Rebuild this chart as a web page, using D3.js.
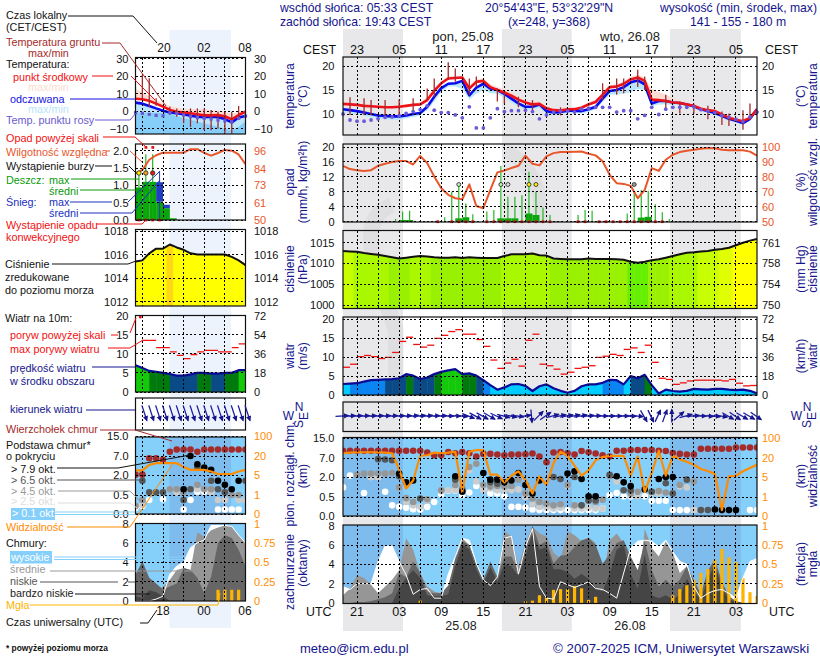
<!DOCTYPE html>
<html>
<head>
<meta charset="utf-8">
<script src="https://d3js.org/d3.v7.min.js"></script>
<style>
  html, body { margin: 0; background: #fff; }
  svg { display: block; font-family: "Liberation Sans", Arial, sans-serif; font-size: 11px; }
  .axis path { display: none; }
  .axis line { display: none; }
  .axis text { font-size: 11px; font-family: "Liberation Sans", Arial, sans-serif; }
</style>
</head>
<body>
<svg id="chart" width="820" height="660"></svg>
<script>
/* ---------- main meteogram: one value per hour, 19 UTC 24.08 to 06 UTC 27.08 ---------- */
var mainTemp = [12.1,12,11.9,11.7,11.6,11.5,11.4,11.4,11.5,11.7,11.9,12,12.9,14.8,16.4,17.4,17.5,17.6,15.3,16.7,16.9,15.6,15,14.5,13.8,13,12.4,12,12.1,11.2,10.8,10.7,11,11,11.3,12,12.5,14,15.6,15.7,16.3,17.2,17.6,16.9,13,12.9,12.7,12.4,12.3,12,11.7,11.1,10.8,10.6,9.9,9.2,8.8,8.5,9.2,11];
var mainTempMax = [12.4,12.3,12.2,12,11.9,11.8,11.7,11.7,11.8,12,12.2,12.4,13.6,15.4,16.9,17.8,17.9,18,16,17.2,17.4,16.2,15.6,15.2,14.5,13.7,13,12.6,12.6,11.6,11.2,11.1,11.4,11.4,11.7,12.4,13,14.6,16,16.2,16.8,17.8,18.2,17.6,15.2,14.6,14,13.4,12.9,12.4,12.1,11.5,11.2,11,10.3,9.6,9.2,8.9,9.6,11.4];
var mainFeels = [11,10.8,10.6,10.3,10,9.7,9.6,9.5,9.5,9.7,10,10.2,11.5,13.6,15.4,16.3,16.4,16.9,13.9,15.5,16.3,15.3,15,14.2,13.2,12.2,11.5,11.5,12,10.6,10.3,10.4,10.7,10.7,10.6,11,11.5,13.2,14.8,15,15.6,16.6,17,16.2,12.2,12.7,12.7,12.4,12.3,12,11.6,11,10.6,10.2,9.6,9,8.6,8.1,9,11];
var mainFeelsMin = [10.3,10.1,9.9,9.6,9.3,9,8.9,8.8,8.8,9.1,9.4,9.7,10.8,12.6,14.6,15.7,15.8,15.2,13,14.2,15,14.3,14.2,13.4,12.4,11.5,10.9,10.9,11.2,10,9.7,9.9,10.2,10.2,10.1,10.4,11,12.5,14,14.1,14.2,14.6,15.2,15,11.6,12,12,11.9,11.8,11.6,11.2,10.6,10.2,9.8,9.2,8.6,8.2,7.7,8.6,10.6];
var mainDew = [10,8.75,8.5,8.5,8.75,9,9.3,9.4,9.6,10.1,10.5,10.9,11.7,10.8,10.3,10.3,9.8,9.2,11.5,7.1,7.1,9.2,11.1,10.5,10.7,10.7,10.8,10.5,9,9.8,10.4,10.6,10.6,10.4,11,11.2,11.4,11.4,11.4,10.4,10.7,10.7,9,9.7,11.4,9.9,11,11.4,11.4,11.4,11.5,10.9,10.6,10.3,9.7,9.3,8.9,8.4,9.4,10.4];
var mainSoilHour = [1,3,4,6,8,10,12,13,15,16,18,19,22,23,25,27,31,37,39,40,42,43,46,48,50,52,54,55,57,58];
var mainSoilMax = [13.5,13.3,12.9,12.9,13,13.3,15.3,17.4,20.8,19.5,17.4,17.8,15.3,14.6,13.6,12.9,11.4,16.4,17.4,17.4,19.2,17.8,14,12.6,12.2,11.7,10.5,10.1,10.8,12.2];
var mainSoilMin = [9.8,9.8,9.8,9.1,9.8,10.1,12.9,13.6,17.1,16.7,14,15.6,12.6,12.2,11.4,10.8,9.7,12.9,14,14.3,15.6,15,11.2,10.1,10.1,8.9,7.7,7.5,6.7,8.75];

var mainHumidity = [87.4,85.2,84.5,83.9,84.5,87.4,88.8,89.9,90.6,90.6,88.3,94,89.2,80.3,72.4,68,65.7,65,75,60.5,59,71.3,83,84.3,85.9,87.4,94.2,88.8,87.7,93.7,95.9,96.6,96.6,96.8,97,95.5,94.4,90.4,81.4,75.8,75.3,74,65.7,71.3,85.9,84,91.5,94.8,96.6,97.5,98.2,98.9,99.3,99.1,98.2,97.8,97.8,97.8,96.9,94.2];
var mainRainHour = [7.5,8.5,9.5,14.5,15.5,16.5,17.5,18.5,20.5,21.5,22.5,23.5,24.5,25.5,26.5,27.5,28.5,29.5,33.5,34.5,35.5,40.5,41.5,42.5,43.5,44.5,45.5,46.5];
var mainRainMax = [0.7,2.7,2.9,1.2,8,9.8,4.9,2,2.7,3.1,14.9,6.7,6.7,7.1,13.4,8,3.8,1.8,1.8,3.1,2.9,2.2,8,8.5,8.3,4.7,2.5,0.7];
var mainRainMeanHour = [8,9,16,17,22,23,24,26,27,42,43];
var mainRainMean = [0.45,0.45,0.9,1.2,0.9,0.9,0.9,2.2,1.8,1.1,1.3];
var mainStormHour = [16.5,22.5,23.5,26.5,27.5,41.5];
var mainStormFill = ["#bfe8b8","#bfe8b8","#ddd","#ffee00","#ffee00","#999"];
var mainConvHour = [13.5,15.5,16.5,17.5,18.5,20.5,21.5,22.5,23.5,24.5,25.5,26.5,27.5,28.5,29.5,33.5,34.5,36.5,37.5,38.5,39.5,40.5,41.5,42.5,43.5,44.5,45.5];

var mainPressure = [1013,1012.9,1012.8,1012.5,1012.3,1012.1,1011.8,1011.5,1011.2,1011.4,1011.6,1011.8,1011.7,1011.5,1011.4,1011.4,1011.5,1011.3,1011.5,1011.4,1011.3,1011.3,1011.3,1011.8,1012.2,1012.2,1012.2,1012.4,1012,1011.9,1011.2,1011.1,1011,1011,1011,1011.2,1011.1,1011.1,1011.1,1011,1010.9,1010.4,1010.2,1010.4,1010.8,1011,1011.4,1011.8,1012.2,1012.6,1012.7,1012.9,1013,1013.3,1013.5,1013.8,1014.4,1015,1015.5,1015.9];

var mainWind = [2.9,3,3.1,3.5,3.9,4,4.1,4.2,4.4,5.5,5.1,4.2,4.6,5.5,6.1,6.5,6.8,5.5,5.7,5.1,3.9,2.6,1.4,2,2.8,2.9,2.4,1.05,2.3,2.8,1.8,1.1,0.6,1.1,2.3,2.8,2.8,3.2,4,3.9,2.8,5,4.4,5.3,2.6,0.4,1.4,1.05,0.9,1.1,1.6,1.5,1.4,1.6,1.6,1.4,1.3,1.4,1.1,0.4];
var mainGust = [7.3,8.1,10.1,10.4,10.1,9.6,9.9,11.2,14.1,15.2,13.3,12.6,13.1,14.9,15.7,16.7,17.2,16,16,14.6,12.8,9.2,7,8.4,9.4,7.6,14.4,16,8.1,7.7,6.8,5.5,6,7,7.3,7.7,9.9,10.2,10.7,10.4,12,12.4,11.2,13.1,8.6,4.4,4.1,2.8,3.2,3.7,3.9,3.9,3.9,3.9,3.7,4.1,3.1,2.4,2.5];
var mainWindTo = [-3,-3,-3,-3,-3,-3,-3,-3,-3,-3,-5,-5,-5,-3,-3,0,0,5,22,28,28,30,25,15,12,8,-8,85,-45,-35,-15,-12,-10,-12,-10,-5,-3,0,0,0,0,2,5,60,65,-65,-70,-90,-40,-15,-5,0,3,5,10,30,35,30,30,35];

var mainCloudTop = [9.9,9.9,9.9,9.9,9.9,9.9,9.9,9.9,9.9,9.9,9.9,9.9,9.2,8.1,8.1,9.4,8.9,9.4,8.9,7.6,8.65,8.65,8.4,8.1,8.4,8.4,8.5,8.8,7.6,5.9,9.2,9.4,8.9,8.4,9.8,9.3,8.8,8.1,7.6,9.9,9.9,10.2,10.2,10.2,10.2,9.9,9.8,9,8.65,8.4,8.4,10.7,10.7,10.7,10.7,10.7,11.2,11.2,11.2,11.2];
var mainVisibility = [39,41.6,43,43,43,43,41.6,39,10.8,2.7,4.3,28.9,31,41.6,39,41.6,45,2,45,51.7,51.7,6.8,6.8,3.9,6,9.5,4.4,1.7,5.5,3.4,16,45,28.9,13.9,6,10.3,18.2,23.8,28.9,28.9,28.9,6,26.3,2,8.2,49,6,28.9,18.9,17,14.7,11.3,9.7,7.4,0.31,5.5,6,9.5,12.1,14.7];
var mainBase79Hour = [8,9,10,16,17,20,21,22,23,24,25,26,27,28,32,33,34,35,36,39,40,41,43,45,46,47,53,54,55,56];
var mainBase79 = [2.9,1.6,1.74,2.2,0.89,3.05,1.8,1.8,1.6,1.74,3.05,1.4,0.76,1.74,2.9,3.5,1.85,0.55,0.55,2.2,1.6,1.33,1.07,1.85,2,2,0.17,0.155,0.155,0.155];
var mainBase65Hour = [5,6,7,8,11,16,17,21,22,30,31,33,34,35,36,38,40,41,44,46,47,49,51,52];
var mainBase65 = [6.7,6.6,6.4,2.2,0.46,1.8,1,1.6,1.5,2,1.85,2,0.28,0.41,0.41,2.6,1,1,0.89,1.53,0.76,1.8,0.155,0.155];
var mainBase45Hour = [2,3,4,5,6,7,8,9,10,12,14,16,17,18,19,20,21,22,23,24,25,26,27,28,29,30,31,32,33,34,35,36,37,38,41,42,44,45,46,47,48,50,51];
var mainBase45 = [2.6,2.9,2.9,2.9,2.9,3.05,1.22,0.47,0.37,0.44,1,1.4,1.15,4.6,5.5,1.4,1.28,1.33,1.28,1.33,1.8,0.76,0.46,0.37,0.33,0.28,0.31,1.4,0.28,0.28,0.4,0.37,0.43,2.2,0.76,0.89,0.89,0.94,0.84,0.76,1.4,1.66,0.155];
var mainBase25Hour = [4,5,8,9,10,11,12,14,15,16,18,19,20,21,22,23,24,25,26,27,28,29,30,31,32,33,34,35,36,37,39,41,42,44,45,48,49,50];
var mainBase25 = [2,2,1.22,0.37,0.28,0.24,0.4,0.94,1,1,3.75,1.66,1,1.15,1,1,1,1.07,0.5,0.31,0.24,0.22,0.2,0.22,1.33,0.2,0.2,0.22,0.2,0.2,1.66,0.63,0.55,0.76,0.76,1.28,1.22,0.155];
var mainBase01Hour = [0,1,3,4,5,6,7,8,9,10,11,12,13,14,15,16,17,18,19,20,21,22,23,24,25,26,27,28,29,30,31,32,33,34,35,36,37,38,39,40,41,42,43,44,45,46,47,48,49,50,58,59];
var mainBase01 = [1.22,2.35,0.8,2,2,0.89,0.28,0.24,0.22,0.18,0.17,0.24,0.37,0.7,0.97,0.97,0.63,0.84,1.33,1.07,0.76,0.76,0.55,0.24,0.24,0.22,0.17,0.155,0.155,0.155,0.155,0.155,0.155,0.155,0.155,0.155,0.2,0.63,0.8,0.55,0.55,0.8,0.55,0.4,0.4,0.4,0.155,0.155,0.155,0.155,0.155,0.155];

var mainCloudHigh = [1.7,1.4,2,2,2,4.3,5.9,5.9,4.3,2.9,0.9,1.4,1.5,0.5,0.5,3,4.8,6.7,6.5,4.1,2.4,1.8,2.7,6.7,6.9,3,5.8,7.7,1.7,0.5,0.4,2.2,1.9,1.6,1.9,2.2,1.5,1.4,1,0.5,3.1,5.7,6.4,6.5,6.4,5.8,6.5,5.3,4.3,4,1.7,0.5,1,1.3,1.4,1,0.5,2.6,4.3,4.6];
var mainCloudMid = [0.8,1.5,2.9,2.6,1.9,1,1.7,2.4,3.4,6.7,5.5,3.1,1.7,1.2,1,1,4.8,6.7,6,4,2.4,3.8,2.7,7.4,6.9,3.8,6.2,7.9,7.2,6.9,5.2,4.6,7.4,7,6.4,6.8,6.2,2.6,6.5,7.2,6.2,4.6,0.5,7.7,5.7,4.8,6.4,5.2,3.1,3.8,1.4,0.3,0.3,0.2,0.2,0.1,0.1,0,0,0];
var mainCloudLow = [0,0,0.1,0.1,0.2,0.4,0.6,1,3.1,2.7,4.3,3.1,1.2,1,1,1.8,4.5,6.4,6,4,2.4,4.3,2.7,4.8,4.8,3.3,5.8,8,6,6.4,4.1,4.9,5,5.8,6.5,6.7,6,4.1,5,6.2,6.5,4.8,3.4,6.4,3.4,1.7,2.4,1.7,2.4,3.8,2.4,0.9,3.4,4.5,2.2,0.7,0.2,0,0,0];
var mainCloudVeryLow = [0,0,0,0,0,0,0,0,1.5,2.6,3.4,2.6,0.8,0.7,0.7,0.9,3.8,6,5.6,3.5,2,3.7,2.2,4,3.8,2.8,4.8,7.2,5.5,5.8,3.5,3.5,3.2,2.5,3,2.5,1.5,1.2,3,5.5,6,3,1.5,5,0.8,0.5,0.8,0.4,0.8,2.5,1.2,0.3,2.5,4,1.5,0.4,0.1,0,0,0];
var mainFogHour = [11,26,27,28,29,30,31,32,33,34,35,36,47,48,49,50,51,52,53,54,55,56,57,58,59];
var mainFog = [0.03,0.02,0.03,0.1,0.07,0.17,0.18,0.18,0.22,0.19,0.04,0.08,0.1,0.18,0.23,0.3,0.39,0.44,0.56,0.7,0.59,0.53,0.32,0.14,0.09];

/* ---------- legend meteogram: 14 UTC to 06 UTC ---------- */
var keyTemp = [7,6.7,5.8,4.2,2.5,0.6,-0.4,-0.8,-1.3,-1.9,-2.5,-2.5,-2.3,-3,-4.8,-2.3,-0.4];
var keyTempMax = [13,10.6,8.3,6.5,4.4,2.8,2,1.5,1,1,1,0.5,0.3,-0.5,-1.5,-0.5,0];
var keyFeels = [4.8,4.2,2.9,1.5,0.2,-0.8,-1.3,-1.9,-2.7,-3.3,-3.5,-3.3,-3.5,-4.6,-6.5,-3.7,-2.9];
var keyFeelsMin = [-0.5,-1,-1,-1,-1,-1.5,-3,-4,-5,-6,-7,-8,-9,-10,-11,-9,-6];
var keyDew = [-1,-1.3,-1.9,-2.5,-2.7,-1,-1.3,-2.3,-3.3,-3.8,-4.2,-4.6,-5.2,-5.6,-6.2,-4.2,-2.9];
var keySoilHour = [1,2,3,5,6,7,8,9,10,11,12,13,14,15];
var keySoilMax = [20.8,18.7,7.3,2.5,1.5,-0.4,1.5,1.5,1.5,0.6,-0.4,-0.4,-0.4,2.9];
var keySoilMin = [6.3,2.5,3,-2.3,-3.3,-7,-9.2,-7,-11,-11,-10,-13,-13,-5.2];

var keyHumidity = [81,83.2,90,93,94.7,94.7,94.7,94.7,97,97,94.5,92.7,94.5,96.5,96,93.5,87];
var keyRainMean = [0.94,1.1,1.1,0.53,0.34,0.05];
var keySnowMean = [0,0,0,0.56,0.1,0];
var keyRainHour = [0.5,1.5,2.5];
var keyRainMax = [1.35,1.9,1.9];
var keySnowHour = [3.5];
var keySnowMax = [1.4];
var keyStormHour = [0.5,1.5,2.5];
var keyStormFill = ["#ffee00","#f0a020","#e02010"];
var keyConvHour = [0.5,1.5,2.5,3.5];
var keyOverHour = [1.5,2.5];

var keyPressure = [1015.4,1015.5,1016.1,1016.5,1016.5,1016.85,1016.6,1016.4,1016.1,1016,1016,1016,1016,1016,1015.8,1015.5,1015.1];
var keyWind = [7,6.3,5.5,5.3,5,4.7,4.3,4.3,4.6,5,5,4.8,4.8,5,5,5.7,5.7];
var keyGust = [13.5,13.5,11.6,11.6,10.5,9.6,8.7,9.8,10.5,10.9,10.9,10.5,10.5,11.6,12.6,12.9];
var keyWindTo = [72,72,72,72,72,72,72,72,72,72,72,72,72,72,72,72];

var keyCloudTop = [2.09,2.09,6.4,6.4,6,8.7,9.6,9.6,9.6,8.7,9.6,9.6,9.6,9.6,9.6,9.6,9.6];
var keyVisibility = [8.6,8.6,13,14.3,14.3,14.3,14.3,11.2,9.1,9.1,9.1,7.8,5.8,5.8,5.8,7.8,9.1];
var keyBase79Hour = [7,8,9,10,11,12,13,14,15];
var keyBase79 = [0.93,7,4.84,3.98,3.38,1.57,1.26,0.93,1.57];
var keyBase65Hour = [1,2,3,4,7,8,9,11,12,13,16];
var keyBase65 = [1.57,0.7,0.7,0.7,0.37,0.93,3.98,1.57,0.93,0.7,1.57];
var keyBase45Hour = [0,1,5,6,7,9,10,11,13,14,15];
var keyBase45 = [0.21,0.37,0.93,0.93,0.7,1.26,0.93,0.93,0.7,0.5,0.5];
var keyBase25Hour = [0,1,5,6,9,11,12,13,15,16];
var keyBase25 = [0.21,0.24,0.93,0.7,0.93,0.7,0.37,0.37,0.37,0.37];
var keyBase01Hour = [0,1,2,4,7,8,9,10,11,12,13,14,15];
var keyBase01 = [0.15,0.21,0.37,0.39,0.12,0.37,0.75,0.75,0.75,0.12,0.12,0.12,0.12];

var keyCloudHigh = [0,0,0,0.2,0.5,2.8,3.6,4,5.5,6,6.3,7.8,7.8,7.8,7.7,6.8,6];
var keyCloudMid = [1,0.8,0.8,1,1.5,2.2,3.2,3.4,3.2,7.1,6.6,7.3,7.6,7.8,7.7,6.8,6];
var keyCloudLow = [2.7,4.1,2.4,1.8,1.2,1.5,1.8,3.4,3.2,2.4,0.8,2.5,6,6.8,6.5,5.3,3.6];
var keyCloudVeryLow = [0.5,0.3,1.1,0.9,0.5,0,0,0,0,0,0,0,0,0,0,0,0];
var keyFogHour = [12,13,14,15];
var keyFog = [0.145,0.145,0.145,0.145];

/* ---------- scale stops and tick labels ---------- */
var baseStops = [0,0.5,2,7,15];
var visStops = [0,1,5,20,100];
var baseTickLabels = ["0.0","0.5","2.0","7.0","15.0"];
var pressBreaks = [1010.7,1011.6,1012.9,1013.5,1014.3,1016.7];
var pressColors = ["#66f000","#99f000","#aaf800","#c8ff00","#e0ff00","#ffff00","#ffd814"];
var windColors = ["#00e5ff","#00ccff","#0a84f0","#0a4a86","#007a0c","#14c80a"];
var hourTicksLocal = ["23","05","11","17","23","05","11","17","23","05"];
var hourTicksUtc = ["21","03","09","15","21","03","09","15","21","03"];

var NAVY = "#14148c", ORANGE = "#ff8c00", RH = "#e8562a", SOIL = "#a52a2a";

var svg = d3.select("#chart");
var defs = svg.append("defs");
var clipCount = 0;

function track(hours, values) {
  return hours.map(function (h, i) { return { h: h, v: values[i] }; });
}

function byHour(values) {
  return values.map(function (v, i) { return { h: i, v: v }; });
}

function drawPanelBase(g, side, top, bottom) {
  var id = "clip" + (clipCount++);
  defs.append("clipPath").attr("id", id).append("rect")
    .attr("x", side.x0).attr("y", top).attr("width", side.x1 - side.x0).attr("height", bottom - top);
  return g.append("g").attr("clip-path", "url(#" + id + ")");
}

function grid(g, side, y, ticks, top, bottom) {
  side.gridHours.forEach(function (h) {
    g.append("line").attr("x1", side.x(h)).attr("x2", side.x(h)).attr("y1", top).attr("y2", bottom)
      .attr("stroke", "#000").attr("stroke-dasharray", "2,2.2").attr("shape-rendering", "crispEdges");
  });
  if (!y) return;
  ticks.forEach(function (t) {
    g.append("line").attr("x1", side.x0).attr("x2", side.x1).attr("y1", y(t)).attr("y2", y(t))
      .attr("stroke", "#000").attr("stroke-dasharray", "2,2.2").attr("shape-rendering", "crispEdges");
  });
}

function frame(g, side, top, bottom) {
  g.append("rect").attr("x", side.x0).attr("y", top).attr("width", side.x1 - side.x0).attr("height", bottom - top)
    .attr("fill", "none").attr("stroke", "#111").attr("stroke-width", 1.2);
}

function axisLeft(side, y, ticks, format) {
  var a = svg.append("g").attr("class", "axis").attr("transform", "translate(" + side.leftAxis + ",0)")
    .call(d3.axisLeft(y).tickValues(ticks).tickSize(0).tickPadding(0).tickFormat(format || d3.format("d")));
  a.selectAll("text").attr("fill", "#111");
}

function axisRight(side, y, ticks, format, color) {
  var a = svg.append("g").attr("class", "axis").attr("transform", "translate(" + side.rightAxis + ",0)")
    .call(d3.axisRight(y).tickValues(ticks).tickSize(0).tickPadding(0).tickFormat(format || d3.format("d")));
  a.selectAll("text").attr("fill", color || "#111");
}

function curve(side, y) {
  return d3.line().x(function (d) { return side.x(d.h); }).y(function (d) { return y(d.v); });
}

function drawLine(g, side, y, data, color, width) {
  g.append("path").datum(data).attr("d", curve(side, y)).attr("fill", "none")
    .attr("stroke", color).attr("stroke-width", width).attr("stroke-linejoin", "round");
}

function drawTemp(side, d) {
  var p = side.temp;
  var g = svg.append("g");
  var y = d3.scaleLinear().domain(p.domain).range(p.range);
  var c = drawPanelBase(g, side, p.top, p.bottom);
  var band = function (upper, lower, color) {
    c.append("path").datum(upper.map(function (v, i) { return { h: i, a: v, b: lower[i] }; }))
      .attr("fill", color)
      .attr("d", d3.area().x(function (e) { return side.x(e.h); }).y0(function (e) { return y(e.b); }).y1(function (e) { return y(e.a); }));
  };
  if (d.fullBlue) {
    band(d.feels, d.feels.map(function () { return p.domain[0] - 20; }), "#bce6fb");
    band(d.feelsMin, d.feels.map(function () { return p.domain[0] - 20; }), "#86cefa");
  } else {
    band(d.feels, d.feelsMin, "#b9e6fb");
  }
  band(d.tempMax, d.temp, "#fbdcd2");
  grid(g, side, y, p.ticks, p.top, p.bottom);

  g.selectAll("line.soil").data(track(d.soilHour, d.soilMax)).enter().append("line")
    .attr("x1", function (e) { return side.x(e.h); }).attr("x2", function (e) { return side.x(e.h); })
    .attr("y1", function (e) { return y(e.v); })
    .attr("y2", function (e, i) { return Math.min(y(d.soilMin[i]), p.bottom); })
    .attr("stroke", SOIL).attr("stroke-width", 1.3);

  drawLine(c, side, y, byHour(d.feels), "#0a0aee", 2.6);
  drawLine(c, side, y, byHour(d.temp), "#f0101a", 2.6);
  if (d.fullBlue) {
    g.selectAll("rect.dew").data(byHour(d.dew)).enter().append("rect")
      .attr("x", function (e) { return side.x(e.h) - 1.6; }).attr("y", function (e) { return y(e.v) - 1.6; })
      .attr("width", 3.2).attr("height", 3.2).attr("fill", "#6a5ad0");
  } else {
    g.selectAll("circle.dew").data(byHour(d.dew)).enter().append("circle")
      .attr("cx", function (e) { return side.x(e.h); }).attr("cy", function (e) { return y(e.v); })
      .attr("r", 1.9).attr("fill", "#6a5ad8");
  }
  frame(g, side, p.top, p.bottom);
  axisLeft(side, y, p.ticks);
  axisRight(side, y, p.ticks);
}

function drawRain(side, d) {
  var p = side.rain;
  var g = svg.append("g");
  var y = d3.scaleLinear().domain(p.domain).range(p.range);
  var yH = d3.scaleLinear().domain(p.rhDomain).range(p.range);
  var c = drawPanelBase(g, side, p.top, p.bottom);
  var rainFormat = p.format || d3.format("d");

  grid(g, side, y, p.ticks, p.top, p.bottom);

  c.selectAll("rect.mean").data(track(d.rainMeanHour, d.rainMean)).enter().append("rect")
    .attr("x", function (e) { return side.x(e.h); })
    .attr("width", function (e) { return side.x(e.h + 1) - side.x(e.h); })
    .attr("y", function (e) { return y(e.v); })
    .attr("height", function (e) { return y(0) - y(e.v); })
    .attr("fill", "#0aa50a");
  if (d.snowMean) {
    c.selectAll("rect.snow").data(track(d.rainMeanHour, d.snowMean)).enter().append("rect")
      .attr("x", function (e) { return side.x(e.h); })
      .attr("width", function (e) { return side.x(e.h + 1) - side.x(e.h); })
      .attr("y", function (e, i) { return y(e.v + d.rainMean[i]); })
      .attr("height", function (e) { return y(0) - y(e.v); })
      .attr("fill", "#1f3fc0");
    g.selectAll("line.snowmax").data(track(d.snowHour, d.snowMax)).enter().append("line")
      .attr("x1", function (e) { return side.x(e.h); }).attr("x2", function (e) { return side.x(e.h); })
      .attr("y1", function (e) { return y(e.v); }).attr("y2", y(0))
      .attr("stroke", "#1f3fc0");
  }
  c.selectAll("line.max").data(track(d.rainHour, d.rainMax)).enter().append("line")
    .attr("x1", function (e) { return side.x(e.h); }).attr("x2", function (e) { return side.x(e.h); })
    .attr("y1", function (e) { return y(e.v); }).attr("y2", y(0))
    .attr("stroke", "#12b012").attr("stroke-width", 1.1);

  drawLine(c, side, yH, byHour(d.humidity), RH, 2);

  g.selectAll("circle.storm").data(track(d.stormHour, d.stormFill)).enter().append("circle")
    .attr("cx", function (e) { return side.x(e.h); }).attr("cy", p.stormY).attr("r", p.stormR)
    .attr("fill", function (e) { return e.v; }).attr("stroke", "#222").attr("stroke-width", 0.8);
  g.selectAll("rect.conv").data(d.convHour).enter().append("rect")
    .attr("x", function (h) { return side.x(h) - 1.4; }).attr("y", y(0) - 1.4)
    .attr("width", 2.8).attr("height", 2.8).attr("fill", "#e01a1a");
  if (d.overHour) {
    g.selectAll("rect.over").data(d.overHour).enter().append("rect")
      .attr("x", function (h) { return side.x(h) - 1.3; }).attr("y", p.top + 2)
      .attr("width", 2.8).attr("height", 2.8).attr("fill", "#e01a1a");
  }
  frame(g, side, p.top, p.bottom);
  axisLeft(side, y, p.ticks, rainFormat);
  axisRight(side, yH, p.rhTicks, d3.format("d"), RH);
}

function drawPressure(side, d) {
  var p = side.press;
  var g = svg.append("g");
  var y = d3.scaleLinear().domain(p.domain).range(p.range);
  var c = drawPanelBase(g, side, p.top, p.bottom);
  var color = d3.scaleThreshold().domain(pressBreaks).range(pressColors);
  var id = "clip" + (clipCount++);
  defs.append("clipPath").attr("id", id).append("path").datum(byHour(d.pressure))
    .attr("d", d3.area().x(function (e) { return side.x(e.h); }).y0(p.bottom).y1(function (e) { return y(e.v); }));
  c.append("g").attr("clip-path", "url(#" + id + ")").selectAll("rect").data(byHour(d.pressure)).enter().append("rect")
    .attr("x", function (e) { return side.x(e.h - 0.5); })
    .attr("width", function (e) { return side.x(e.h + 0.5) - side.x(e.h - 0.5) + 0.5; })
    .attr("y", p.top).attr("height", p.bottom - p.top)
    .attr("fill", function (e) { return color(e.v); });
  grid(g, side, y, p.ticks, p.top, p.bottom);
  drawLine(c, side, y, byHour(d.pressure), "#111", 2);
  frame(g, side, p.top, p.bottom);
  axisLeft(side, y, p.ticks);
  axisRight(side, y, p.ticks, function (t) { return p.rightLabels[p.ticks.indexOf(t)]; });
}

function drawWind(side, d) {
  var p = side.wind;
  var g = svg.append("g");
  var y = d3.scaleLinear().domain(p.domain).range(p.range);
  var c = drawPanelBase(g, side, p.top, p.bottom);
  var color = d3.scaleThreshold().domain(p.breaks).range(windColors);
  var id = "clip" + (clipCount++);
  defs.append("clipPath").attr("id", id).append("path").datum(byHour(d.wind))
    .attr("d", d3.area().x(function (e) { return side.x(e.h); }).y0(y(0)).y1(function (e) { return y(e.v); }));
  c.append("g").attr("clip-path", "url(#" + id + ")").selectAll("rect").data(byHour(d.wind)).enter().append("rect")
    .attr("x", function (e) { return side.x(e.h); })
    .attr("width", function (e) { return side.x(e.h + 1) - side.x(e.h) + 0.5; })
    .attr("y", p.top).attr("height", p.bottom - p.top)
    .attr("fill", function (e) { return color(e.v); });
  grid(g, side, y, p.ticks, p.top, p.bottom);
  drawLine(c, side, y, byHour(d.wind), "#0a0a96", 2.2);
  c.selectAll("line.gust").data(d.gust.map(function (v, i) { return { h: i + d.gustStart, v: v }; })).enter().append("line")
    .attr("x1", function (e) { return side.x(e.h); }).attr("x2", function (e) { return side.x(e.h + 1); })
    .attr("y1", function (e) { return y(e.v); }).attr("y2", function (e) { return y(e.v); })
    .attr("stroke", "#f01010").attr("stroke-width", 1.3);
  if (d.gustOverHour !== undefined) {
    g.append("circle").attr("cx", side.x(d.gustOverHour)).attr("cy", p.top + 1.5).attr("r", 1.5).attr("fill", "#f01010");
  }
  frame(g, side, p.top, p.bottom);
  axisLeft(side, y, p.ticks);
  axisRight(side, y, p.ticks, function (t) { return p.rightLabels[p.ticks.indexOf(t)]; });
}

function drawDirection(side, d) {
  var p = side.dir;
  var g = svg.append("g");
  grid(g, side, null, [], p.top, p.bottom);
  frame(g, side, p.top, p.bottom);
  var arrows = g.selectAll("g.arrow").data(d.windTo).enter().append("g")
    .attr("transform", function (a, i) {
      return "translate(" + (side.x(i + d.dirStart) + p.shift) + "," + p.y + ") rotate(" + a + ")";
    });
  arrows.append("line").attr("x1", -p.len / 2).attr("x2", p.len / 2).attr("y1", 0).attr("y2", 0)
    .attr("stroke", "#1a1aa0").attr("stroke-width", 1.3);
  arrows.append("path").attr("d", d3.line()([[p.len / 2 + 1, 0], [p.len / 2 - 4.5, -2.6], [p.len / 2 - 4.5, 2.6]]))
    .attr("fill", "#14148c");
}

function drawBase(side, d) {
  var p = side.base;
  var g = svg.append("g");
  var y = d3.scaleLinear().domain(baseStops).range(p.range);
  var yV = d3.scaleLinear().domain(visStops).range(p.range);
  var c = drawPanelBase(g, side, p.top, p.bottom);
  sky(c, side, p.top, p.bottom);
  grid(g, side, y, baseStops, p.top, p.bottom);
  var levels = [
    { data: track(d.base01Hour, d.base01), color: "#fff" },
    { data: track(d.base25Hour, d.base25), color: "#ccc" },
    { data: track(d.base45Hour, d.base45), color: "#969696" },
    { data: track(d.base65Hour, d.base65), color: "#565656" },
    { data: track(d.base79Hour, d.base79), color: "#000" },
    { data: byHour(d.cloudTop), color: "#a52a2a" }
  ];
  levels.forEach(function (l) {
    c.append("g").selectAll("circle").data(l.data).enter().append("circle")
      .attr("cx", function (e) { return side.x(e.h); }).attr("cy", function (e) { return y(e.v); })
      .attr("r", 3.3).attr("fill", l.color);
  });
  drawLine(c, side, yV, byHour(d.visibility), ORANGE, 2.2);
  frame(g, side, p.top, p.bottom);
  axisLeft(side, y, baseStops, function (t) { return baseTickLabels[baseStops.indexOf(t)]; });
  axisRight(side, yV, visStops, d3.format("d"), ORANGE);
}

function sky(c, side, top, bottom) {
  c.append("rect").attr("x", side.x0).attr("y", top).attr("width", side.x1 - side.x0).attr("height", bottom - top).attr("fill", "#85cffb");
  side.bands.forEach(function (b) {
    c.append("rect").attr("x", side.x(b[0])).attr("width", side.x(b[1]) - side.x(b[0]))
      .attr("y", top).attr("height", bottom - top).attr("fill", "#7dbcec");
  });
}

function drawClouds(side, d) {
  var p = side.cloud;
  var g = svg.append("g");
  var y = d3.scaleLinear().domain([0, 8]).range(p.range);
  var yF = d3.scaleLinear().domain([0, 1]).range(p.range);
  var c = drawPanelBase(g, side, p.top, p.bottom);
  sky(c, side, p.top, p.bottom);
  var area = d3.area().x(function (e) { return side.x(e.h); }).y0(y(0)).y1(function (e) { return y(e.v); });
  [[d.cloudHigh, "#fff"], [d.cloudMid, "#969696"], [d.cloudLow, "#666"], [d.cloudVeryLow, "#454545"]].forEach(function (l) {
    c.append("path").datum(byHour(l[0])).attr("d", area).attr("fill", l[1]);
  });
  c.selectAll("rect.fog").data(track(d.fogHour, d.fog)).enter().append("rect")
    .attr("x", function (e) { return side.x(e.h) - 1.6; }).attr("width", 3.2)
    .attr("y", function (e) { return yF(e.v); })
    .attr("height", function (e) { return yF(0) - yF(e.v); })
    .attr("fill", "#ffb400");
  grid(g, side, y, [2, 4, 6], p.top, p.bottom);
  drawLine(c, side, y, byHour(d.cloudHigh), "#fff", 1);
  frame(g, side, p.top, p.bottom);
  axisLeft(side, y, [0, 2, 4, 6, 8]);
  axisRight(side, yF, [0, 0.25, 0.5, 0.75, 1], function (t) { return String(t); }, ORANGE);
}

var mainSide = {
  x: d3.scaleLinear().domain([0, 59]).range([343, 757]),
  x0: 343, x1: 757, leftAxis: 334.5, rightAxis: 762,
  bands: [[0, 8.55], [22.65, 32.6], [46.6, 56.7]], bandColor: "#e8e8ea", bandTop: 29, bandBottom: 631,
  gridHours: d3.range(2, 59, 3),
  temp: { domain: [10, 20], range: [114, 66], top: 57, bottom: 135, ticks: [10, 15, 20] },
  rain: { domain: [0, 20], range: [221.7, 147], rhDomain: [50, 100], top: 144, bottom: 222, ticks: [0, 4, 8, 12, 16, 20], rhTicks: [50, 60, 70, 80, 90, 100], stormY: 184.5, stormR: 2 },
  press: { domain: [1000, 1015], range: [305, 242.7], top: 230.5, bottom: 308.5, ticks: [1000, 1005, 1010, 1015], rightLabels: [750, 754, 758, 761] },
  wind: { domain: [0, 20], range: [395, 319], top: 317, bottom: 395, ticks: [0, 5, 10, 15, 20], rightLabels: [0, 18, 36, 54, 72], breaks: [1, 3, 4.05, 5.3, 6] },
  dir: { top: 402, bottom: 431.5, y: 416, len: 13, shift: -1 },
  base: { range: [516, 497, 477, 458, 438], top: 437.5, bottom: 516 },
  cloud: { range: [603, 525.7], top: 525, bottom: 603.5 }
};

var keySide = {
  x: d3.scaleLinear().domain([0, 16]).range([135.5, 245.5]),
  x0: 135.5, x1: 245.5, leftAxis: 128.5, rightAxis: 254,
  bands: [[4.95, 13.9]], bandColor: "#edf3fd", bandTop: 30, bandBottom: 628,
  gridHours: [1, 4, 7, 10, 13],
  temp: { domain: [-10, 30], range: [128.5, 58.5], top: 57.5, bottom: 134, ticks: [-10, 0, 10, 20, 30] },
  rain: { domain: [0, 2], range: [220, 150.7], rhDomain: [50, 96], top: 144, bottom: 220, ticks: [0, 0.5, 1, 1.5, 2], rhTicks: [50, 61, 73, 84, 96], stormY: 173, stormR: 2.2, format: d3.format(".1f") },
  press: { domain: [1012, 1018], range: [301.5, 231], top: 229.5, bottom: 306, ticks: [1012, 1014, 1016, 1018], rightLabels: [1012, 1014, 1016, 1018] },
  wind: { domain: [0, 20], range: [392, 315.5], top: 315.5, bottom: 392, ticks: [0, 5, 10, 15, 20], rightLabels: [0, 18, 36, 54, 72], breaks: [1, 3, 4.05, 4.9, 5.65] },
  dir: { top: 398, bottom: 430, y: 413, len: 16, shift: 2 },
  base: { range: [514, 495, 475, 456, 436], top: 437, bottom: 514 },
  cloud: { range: [601, 523.5], top: 523.5, bottom: 601 }
};

var mainData = {
  temp: mainTemp, tempMax: mainTempMax, feels: mainFeels, feelsMin: mainFeelsMin, dew: mainDew,
  soilHour: mainSoilHour, soilMax: mainSoilMax, soilMin: mainSoilMin,
  humidity: mainHumidity, rainHour: mainRainHour, rainMax: mainRainMax,
  rainMeanHour: mainRainMeanHour, rainMean: mainRainMean,
  stormHour: mainStormHour, stormFill: mainStormFill, convHour: mainConvHour,
  pressure: mainPressure, wind: mainWind, gust: mainGust, gustStart: 0, windTo: mainWindTo, dirStart: 0,
  cloudTop: mainCloudTop, visibility: mainVisibility,
  base79Hour: mainBase79Hour, base79: mainBase79, base65Hour: mainBase65Hour, base65: mainBase65,
  base45Hour: mainBase45Hour, base45: mainBase45, base25Hour: mainBase25Hour, base25: mainBase25,
  base01Hour: mainBase01Hour, base01: mainBase01,
  cloudHigh: mainCloudHigh, cloudMid: mainCloudMid, cloudLow: mainCloudLow, cloudVeryLow: mainCloudVeryLow,
  fogHour: mainFogHour, fog: mainFog
};

var keyData = {
  fullBlue: true,
  temp: keyTemp, tempMax: keyTempMax, feels: keyFeels, feelsMin: keyFeelsMin, dew: keyDew,
  soilHour: keySoilHour, soilMax: keySoilMax, soilMin: keySoilMin,
  humidity: keyHumidity, rainHour: keyRainHour, rainMax: keyRainMax,
  rainMeanHour: d3.range(keyRainMean.length), rainMean: keyRainMean, snowMean: keySnowMean,
  snowHour: keySnowHour, snowMax: keySnowMax,
  stormHour: keyStormHour, stormFill: keyStormFill, convHour: keyConvHour, overHour: keyOverHour,
  pressure: keyPressure, wind: keyWind, gust: keyGust, gustStart: 1, gustOverHour: 0.7, windTo: keyWindTo, dirStart: 1,
  cloudTop: keyCloudTop, visibility: keyVisibility,
  base79Hour: keyBase79Hour, base79: keyBase79, base65Hour: keyBase65Hour, base65: keyBase65,
  base45Hour: keyBase45Hour, base45: keyBase45, base25Hour: keyBase25Hour, base25: keyBase25,
  base01Hour: keyBase01Hour, base01: keyBase01,
  cloudHigh: keyCloudHigh, cloudMid: keyCloudMid, cloudLow: keyCloudLow, cloudVeryLow: keyCloudVeryLow,
  fogHour: keyFogHour, fog: keyFog
};

[mainSide, keySide].forEach(function (side) {
  side.bands.forEach(function (b) {
    svg.append("rect").attr("x", side.x(b[0])).attr("width", side.x(b[1]) - side.x(b[0]))
      .attr("y", side.bandTop).attr("height", side.bandBottom - side.bandTop).attr("fill", side.bandColor);
  });
});

// faint watermark behind the main panels
[["M392 205 Q366 215 372 250 Q384 300 396 330 L396 395", 16], ["M506 150 Q545 175 540 222", 14]].forEach(function (w) {
  svg.append("path").attr("d", w[0]).attr("fill", "none").attr("stroke", "#000").attr("stroke-opacity", 0.035).attr("stroke-width", w[1]);
});

[[mainSide, mainData], [keySide, keyData]].forEach(function (s) {
  drawTemp(s[0], s[1]);
  drawRain(s[0], s[1]);
  drawPressure(s[0], s[1]);
  drawWind(s[0], s[1]);
  drawDirection(s[0], s[1]);
  drawBase(s[0], s[1]);
  drawClouds(s[0], s[1]);
});

function label(t, x, y, color, anchor, size, extra) {
  var el = svg.append("text").attr("x", x).attr("y", y).attr("fill", color || "#111")
    .attr("text-anchor", anchor || "start").text(t);
  if (size) el.style("font-size", size + "px");
  if (extra) el.style("font-weight", extra);
  return el;
}

// time rows above and below the main panels
hourTicksLocal.forEach(function (t, i) { label(t, mainSide.x(2 + i * 6), 54, "#111", "middle", 12.6); });
hourTicksUtc.forEach(function (t, i) { label(t, mainSide.x(2 + i * 6), 616, "#111", "middle", 12.6); });
label("CEST", 303, 54, "#111", "start", 12.4); label("CEST", 765, 54, "#111", "start", 12.4);
label("UTC", 306, 616, "#111", "start", 12.4); label("UTC", 769, 616, "#111", "start", 12.4);
label("pon, 25.08", 463, 41, "#222", "middle", 13); label("wto, 26.08", 630, 41, "#222", "middle", 13);
label("25.08", 461, 630, "#222", "middle", 12.5); label("26.08", 630, 630, "#222", "middle", 12.5);

// time rows of the legend panels
["20", "02", "08"].forEach(function (t, i) { label(t, [164, 204, 245][i], 52, "#111", "middle", 12); });
["18", "00", "06"].forEach(function (t, i) { label(t, [163, 204, 245][i], 615, "#111", "middle", 12); });

// header and footer
label("wschód słońca: 05:33 CEST", 280, 12, NAVY, "start", 12.2);
label("zachód słońca: 19:43 CEST", 280, 26, NAVY, "start", 12.2);
label("20°54'43\"E, 53°32'29\"N", 549, 12, NAVY, "middle", 12.2);
label("(x=248, y=368)", 549, 26, NAVY, "middle", 12.2);
label("wysokość (min, środek, max)", 817, 12, NAVY, "end", 12.2);
label("141 - 155 - 180 m", 738, 26, NAVY, "middle", 12.2);
label("meteo@icm.edu.pl", 300, 653, NAVY, "start", 13);
label("© 2007-2025 ICM, Uniwersytet Warszawski", 553, 653, NAVY, "start", 13.3);
label("* powyżej poziomu morza", 6, 651, "#111", "start", 8.4, "bold");

// rotated unit captions
var unitCaptions = [
  ["temperatura", 294, 96], ["(°C)", 307, 96], ["(°C)", 805, 96], ["temperatura", 817, 96],
  ["opad", 294, 182], ["(mm/h, kg/m²h)", 307, 182], ["(%)", 805, 182], ["wilgotność wzgl.", 817, 182],
  ["ciśnienie", 294, 269], ["(hPa)", 307, 269], ["(mm Hg)", 805, 269], ["ciśnienie", 817, 269],
  ["wiatr", 294, 356], ["(m/s)", 307, 356], ["(km/h)", 805, 356], ["wiatr", 817, 356],
  ["pion. rozciągł. chm.", 294, 474], ["(km)", 307, 476], ["(km)", 805, 476], ["widzialność", 817, 476],
  ["zachmurzenie", 294, 572], ["(oktanty)", 307, 563], ["(frakcja)", 805, 564], ["mgła", 817, 564]
];
unitCaptions.forEach(function (c) {
  svg.append("text").attr("transform", "translate(" + c[1] + "," + c[2] + ") rotate(-90)")
    .attr("text-anchor", "middle").attr("fill", NAVY).style("font-size", "12.2px").text(c[0]);
});

// compass letters beside the direction panel
[299, 807].forEach(function (cx) {
  label("W", cx - 5, 420, NAVY, "end", 12);
  label("N", cx, 411, NAVY, "middle", 12);
  svg.append("text").attr("transform", "translate(" + (cx + 9) + ",416) rotate(-90)").attr("text-anchor", "middle").attr("fill", NAVY).style("font-size", "12px").text("E");
  svg.append("text").attr("transform", "translate(" + (cx + 4) + ",424) rotate(-90)").attr("text-anchor", "middle").attr("fill", NAVY).style("font-size", "12px").text("S");
});

// legend captions and their leader lines
var C = { red: "#f01010", green: "#0a9a0a", blue: "#1a30c0", navy: "#14148c", rosy: "#6a5ad0", pink: "#fbdcd0", sky: "#b8e4fb", g1: "#555", g2: "#999", g3: "#ddd" };
var legendHighlights = [[11, 508, 44, 12], [10, 551, 42, 12.5]];
var legendLeaders = [
  [[[68, 16], [133, 16], [157, 43]], "#111"],
  [[[102, 43], [120, 43], [166, 106]], SOIL],
  [[[92, 76], [113, 76]], C.red], [[[131, 76], [155, 100]], C.red],
  [[[70, 99], [135, 99]], "#1010e0"],
  [[[95, 120], [130, 120], [137, 112]], C.rosy],
  [[[103, 137], [135, 137], [146, 147]], C.red],
  [[[106, 151], [110, 151]], RH], [[[130, 151], [142, 162]], RH],
  [[[95, 166], [112, 166]], "#111"], [[[129, 166], [135, 172]], "#111"],
  [[[71, 179], [139, 179]], C.green],
  [[[80, 190], [150, 190]], C.green],
  [[[70, 202], [112, 202]], C.blue], [[[128, 202], [160, 171]], C.blue],
  [[[80, 213], [132, 213], [160, 180]], C.blue],
  [[[96, 224], [142, 224], [146, 220]], C.red],
  [[[52, 264], [128, 264], [136, 261]], "#111"],
  [[[111, 335], [118, 335]], C.red], [[[130, 333], [136, 318]], C.red],
  [[[108, 348], [130, 348], [143, 340]], C.red],
  [[[92, 367], [135, 367]], C.navy],
  [[[86, 410], [135, 410]], C.navy],
  [[[100, 430], [135, 430], [172, 441]], SOIL],
  [[[57, 468], [118, 468], [190, 455]], "#111"],
  [[[57, 480], [143, 480]], C.g1],
  [[[58, 491], [130, 491], [142, 503]], C.g2],
  [[[58, 503], [130, 503], [137, 508]], C.g3],
  [[[55, 512], [135, 512]], "#85cffb"], [[[55, 514.5], [135, 514.5]], "#85cffb"],
  [[[67, 527], [130, 527], [172, 465]], ORANGE],
  [[[54, 557], [185, 557]], "#85cffb"], [[[54, 559.5], [185, 559.5]], "#85cffb"],
  [[[50, 571], [192, 571]], C.g2],
  [[[40, 582], [118, 582]], C.g1], [[[128, 582], [135, 582]], C.g1],
  [[[75, 594], [150, 594]], "#111"],
  [[[30, 605], [218, 605], [220, 593]], "#ffb400"],
  [[[140, 623], [148, 623], [157, 610]], "#111"]
];
var legendCaptions = [
  ["Czas lokalny", 6, 19, "#111"], ["(CET/CEST)", 6, 31, "#111"],
  ["Temperatura gruntu", 6, 46, SOIL], ["max/min", 28, 57, SOIL],
  ["Temperatura:", 6, 68, "#111"], ["punkt środkowy", 13, 81, C.red], ["max/min", 28, 91, C.pink],
  ["odczuwana", 10, 103, "#1010e0"], ["max/min", 28, 113, C.sky], ["Temp. punktu rosy", 6, 124, C.rosy],
  ["Opad powyżej skali", 6, 142, C.red], ["Wilgotność względna", 6, 156, RH], ["Wystąpienie burzy", 6, 170, "#111"],
  ["Deszcz:", 6, 184, C.green], ["max", 49, 184, C.green], ["średni", 49, 195, C.green], ["Śnieg:", 6, 206, C.blue], ["max", 49, 206, C.blue], ["średni", 49, 217, C.blue],
  ["Wystąpienie opadu", 6, 229, C.red], ["konwekcyjnego", 6, 241, C.red],
  ["Ciśnienie", 5, 268, "#111"], ["zredukowane", 5, 281, "#111"], ["do poziomu morza", 5, 294, "#111"],
  ["Wiatr na 10m:", 5, 322, "#111"], ["poryw powyżej skali", 10, 339, C.red], ["max porywy wiatru", 10, 353, C.red],
  ["prędkość wiatru", 10, 372, C.navy], ["w środku obszaru", 10, 385, C.navy], ["kierunek wiatru", 10, 413, C.navy],
  ["Wierzchołek chmur", 6, 433, SOIL], ["Podstawa chmur*", 6, 449, "#111"], ["o pokryciu", 6, 460, "#111"],
  ["> 7.9 okt.", 11, 473, "#111"], ["> 6.5 okt.", 11, 484, C.g1], ["> 4.5 okt.", 11, 495, C.g2], ["> 2.5 okt.", 11, 505, C.g3], ["> 0.1 okt.", 12, 517, "#fff"],
  ["Widzialność", 6, 531, ORANGE], ["Chmury:", 6, 547, "#111"], ["wysokie", 11, 561, "#fff"], ["średnie", 10, 573, C.g2],
  ["niskie", 10, 585, C.g1], ["bardzo niskie", 10, 597, "#222"], ["Mgła", 6, 609, "#ffb400"], ["Czas uniwersalny (UTC)", 6, 626, "#111"]
];
legendHighlights.forEach(function (r) {
  svg.append("rect").attr("x", r[0]).attr("y", r[1]).attr("width", r[2]).attr("height", r[3]).attr("fill", "#85cffb");
});
legendLeaders.forEach(function (l) {
  svg.append("path").attr("d", d3.line()(l[0])).attr("fill", "none").attr("stroke", l[1]).attr("stroke-width", 1);
});
legendCaptions.forEach(function (c) { label(c[0], c[1], c[2], c[3], "start", 10.8); });
</script>
</body>
</html>
